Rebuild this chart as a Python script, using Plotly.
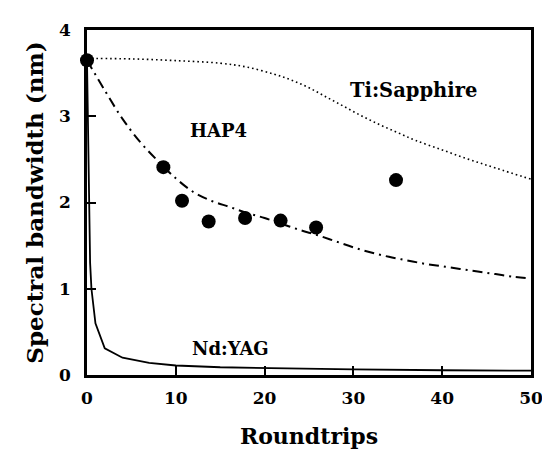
import plotly.graph_objects as go

# Ti:Sapphire (dotted)
ti_x = [0, 5, 10, 15, 18, 21, 23, 25, 27, 29, 31, 33, 35, 37, 40, 43, 46, 50]
ti_y = [3.67, 3.665, 3.645, 3.615, 3.57, 3.49, 3.42, 3.33, 3.22, 3.11, 3.00, 2.90, 2.81, 2.72, 2.61, 2.50, 2.40, 2.27]

# HAP4 model (dash-dot)
hap_x = [0, 2, 4, 6, 8, 10, 12, 14, 16, 18, 20, 22, 24, 26, 28, 30, 32, 34, 36, 38, 40, 42, 44, 46, 48, 50]
hap_y = [3.65, 3.30, 2.97, 2.70, 2.48, 2.28, 2.12, 2.02, 1.95, 1.88, 1.82, 1.75, 1.68, 1.62, 1.55,
         1.48, 1.42, 1.37, 1.33, 1.29, 1.26, 1.23, 1.20, 1.17, 1.14, 1.12]

# HAP4 measurements (dots)
meas_x = [0, 8.6, 10.7, 13.7, 17.8, 21.8, 25.8, 34.8]
meas_y = [3.65, 2.41, 2.02, 1.78, 1.82, 1.79, 1.71, 2.26]

# Nd:YAG (solid)
nd_x = [0, 0.1, 0.2, 0.35, 0.5, 0.7, 0.95, 2, 4, 7, 10, 15, 20, 30, 40, 50]
nd_y = [3.65, 2.8, 1.9, 1.3, 1.0, 0.8, 0.6, 0.31, 0.2, 0.14, 0.11, 0.09, 0.08, 0.065, 0.055, 0.05]

labels = ["Ti:Sapphire", "HAP4", "Nd:YAG"]
label_x = [36.8, 14.8, 16.2]
label_y = [3.3, 2.84, 0.31]
label_size = [19.5, 18, 18]

FONT = "DejaVu Serif"

fig = go.Figure()
fig.add_trace(go.Scatter(x=ti_x, y=ti_y, mode="lines",
                         line=dict(color="black", width=1.6, dash="1.6px,3px", shape="spline")))
fig.add_trace(go.Scatter(x=hap_x, y=hap_y, mode="lines",
                         line=dict(color="black", width=2, dash="10px,5px,2px,5px", shape="spline")))
fig.add_trace(go.Scatter(x=nd_x, y=nd_y, mode="lines",
                         line=dict(color="black", width=1.8)))
fig.add_trace(go.Scatter(x=meas_x, y=meas_y, mode="markers",
                         marker=dict(color="black", size=14), cliponaxis=False))

for t, x, y, s in zip(labels, label_x, label_y, label_size):
    fig.add_annotation(x=x, y=y, text="<b>%s</b>" % t, showarrow=False,
                       font=dict(family=FONT, size=s, color="black"))

fig.update_layout(
    width=550, height=450,
    margin=dict(l=79, r=27, t=12, b=73),
    plot_bgcolor="white", paper_bgcolor="white",
    showlegend=False,
    font=dict(family=FONT, color="black"),
)
fig.update_xaxes(range=[0, 50], tickvals=[0, 10, 20, 30, 40, 50],
                 ticktext=["<b>%d</b>" % v for v in [0, 10, 20, 30, 40, 50]],
                 ticks="inside", ticklen=9, tickwidth=1.5, tickcolor="black",
                 showline=True, linewidth=2.5, linecolor="black", mirror=True,
                 showgrid=False, zeroline=False,
                 tickfont=dict(family=FONT, size=17),
                 ticklabelstandoff=6,
                 title=dict(text="<b>Roundtrips</b>", font=dict(family=FONT, size=22), standoff=22))
fig.update_yaxes(range=[0, 4], tickvals=[0, 1, 2, 3, 4],
                 ticktext=["<b>%d</b>" % v for v in [0, 1, 2, 3, 4]],
                 ticks="inside", ticklen=9, tickwidth=1.5, tickcolor="black",
                 showline=True, linewidth=2.5, linecolor="black", mirror=True,
                 showgrid=False, zeroline=False,
                 tickfont=dict(family=FONT, size=17),
                 ticklabelstandoff=10,
                 title=dict(text="<b>Spectral bandwidth (nm)</b>", font=dict(family=FONT, size=23), standoff=9))

fig.write_html("out.html")
